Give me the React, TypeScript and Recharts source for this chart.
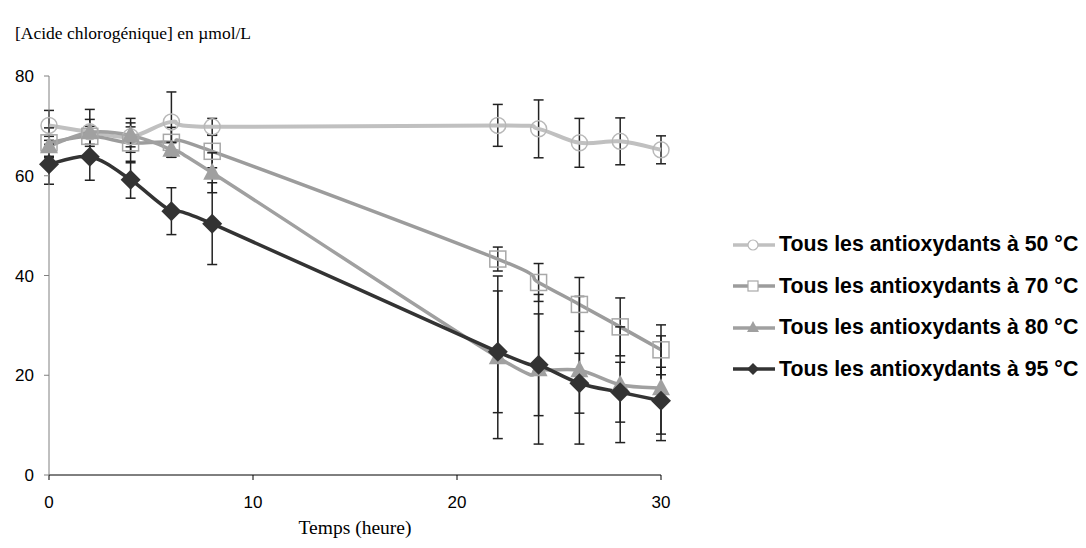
import { LineChart, Line, XAxis, YAxis, ErrorBar } from 'recharts';

const times = [0, 2, 4, 6, 8, 22, 24, 26, 28, 30];

const c50 = [70.1, 68.8, 67.8, 70.8, 69.8, 70.1, 69.4, 66.6, 66.9, 65.2];
const e50 = [3, 2.5, 2, 6, 1.7, 4.2, 5.8, 4.9, 4.7, 2.8];
const c70 = [66.6, 67.9, 66.6, 66.7, 64.9, 43.3, 38.6, 34.2, 29.7, 25.1];
const e70 = [3, 2, 4, 3, 3.3, 2.4, 3.8, 5.4, 5.8, 5];
const c80 = [65.9, 68.7, 68.1, 65.2, 60.6, 23.6, 21.2, 21.0, 18.1, 17.4];
const e80 = [2, 4.6, 3.4, 1.5, 4, 16.3, 15, 14.8, 11.6, 10.5];
const c95 = [62.3, 63.8, 59.2, 52.9, 50.4, 24.7, 22.1, 18.4, 16.6, 14.9];
const e95 = [4, 4.7, 3.7, 4.7, 8.2, 12.2, 10.2, 6, 6, 6.7];

const xTicks = [0, 10, 20, 30];
const yTicks = [0, 20, 40, 60, 80];

const seriesNames = [
  'Tous les antioxydants à 50 °C',
  'Tous les antioxydants à 70 °C',
  'Tous les antioxydants à 80 °C',
  'Tous les antioxydants à 95 °C',
];

const data = times.map((t, i) => ({
  t,
  c50: c50[i],
  e50: e50[i],
  c70: c70[i],
  e70: e70[i],
  c80: c80[i],
  e80: e80[i],
  c95: c95[i],
  e95: e95[i],
}));

const COLORS = ['#c0c0c0', '#9c9c9c', '#a0a0a0', '#333333'];

// Excel-like smoothed line (Catmull-Rom as cubic bezier)
function excelSmooth(context: any) {
  let pts: [number, number][] = [];
  return {
    areaStart() {},
    areaEnd() {},
    lineStart() {
      pts = [];
    },
    point(x: number, y: number) {
      pts.push([+x, +y]);
    },
    lineEnd() {
      const n = pts.length;
      if (!n) return;
      context.moveTo(pts[0][0], pts[0][1]);
      for (let i = 0; i < n - 1; i++) {
        const p0 = pts[Math.max(i - 1, 0)];
        const p1 = pts[i];
        const p2 = pts[i + 1];
        const p3 = pts[Math.min(i + 2, n - 1)];
        context.bezierCurveTo(
          p1[0] + (p2[0] - p0[0]) / 6,
          p1[1] + (p2[1] - p0[1]) / 6,
          p2[0] - (p3[0] - p1[0]) / 6,
          p2[1] - (p3[1] - p1[1]) / 6,
          p2[0],
          p2[1],
        );
      }
    },
  };
}

function Marker({ kind, cx, cy }: { kind: number; cx: number; cy: number }) {
  if (kind === 0) {
    return <circle cx={cx} cy={cy} r={8} fill="none" stroke="#b8b8b8" strokeWidth={1.5} />;
  }
  if (kind === 1) {
    return <rect x={cx - 8} y={cy - 8} width={16} height={16} fill="none" stroke="#a8a8a8" strokeWidth={1.5} />;
  }
  if (kind === 2) {
    return <polygon points={`${cx},${cy - 10} ${cx + 9},${cy + 7} ${cx - 9},${cy + 7}`} fill="#a0a0a0" />;
  }
  return <polygon points={`${cx},${cy - 10} ${cx + 10},${cy} ${cx},${cy + 10} ${cx - 10},${cy}`} fill="#333333" />;
}

function makeDot(kind: number) {
  return (props: any) => {
    const { cx, cy, index } = props;
    if (cx == null || cy == null) return <g key={index} />;
    return <Marker key={index} kind={kind} cx={cx} cy={cy} />;
  };
}

function LegendIcon({ kind }: { kind: number }) {
  const cx = 21;
  const cy = 8;
  let m;
  if (kind === 0) m = <circle cx={cx} cy={cy} r={5} fill="#fff" stroke="#b8b8b8" strokeWidth={1.2} />;
  else if (kind === 1) m = <rect x={cx - 5} y={cy - 5} width={10} height={10} fill="#fff" stroke="#a8a8a8" strokeWidth={1.2} />;
  else if (kind === 2) m = <polygon points={`${cx},${cy - 7} ${cx + 6},${cy + 4} ${cx - 6},${cy + 4}`} fill="#a0a0a0" />;
  else m = <polygon points={`${cx},${cy - 6} ${cx + 6},${cy} ${cx},${cy + 6} ${cx - 6},${cy}`} fill="#333333" />;
  return (
    <svg width={44} height={16} style={{ display: 'block', flex: 'none' }}>
      <line x1={1} y1={cy} x2={43} y2={cy} stroke={COLORS[kind]} strokeWidth={3.5} />
      {m}
    </svg>
  );
}

const tickFont = { fontFamily: '"Liberation Sans", Arial, sans-serif', fontSize: 17, fill: '#000' };

export default function App() {
  return (
    <div style={{ position: 'relative', width: 1078, height: 540 }}>
      <LineChart width={1078} height={540} data={data} margin={{ top: 68, right: 425, bottom: 0, left: 0 }}>
        <XAxis
          dataKey="t"
          type="number"
          domain={[0, 30]}
          ticks={xTicks}
          stroke="#000"
          tickLine={{ stroke: '#000' }}
          tickSize={5}
          tickMargin={16}
          tick={tickFont}
          height={73}
          label={{
            value: 'Temps (heure)',
            position: 'insideBottom',
            offset: 14,
            style: { fontFamily: '"Liberation Serif", "Times New Roman", serif', fontSize: 19.5, fill: '#000' },
          }}
        />
        <YAxis
          type="number"
          domain={[0, 80]}
          ticks={yTicks}
          stroke="#808080"
          tickSize={5}
          tickMargin={10}
          tick={tickFont}
          width={41}
          label={{
            content: () => (
              <text
                x={7}
                y={31}
                style={{ fontFamily: '"Liberation Serif", "Times New Roman", serif', fontSize: 17.5, fill: '#000' }}
              >
                [Acide chlorogénique] en µmol/L
              </text>
            ),
          }}
        />
        <Line type={excelSmooth as any} dataKey="c50" stroke={COLORS[0]} strokeWidth={4} dot={makeDot(0)} isAnimationActive={false}>
          <ErrorBar dataKey="e50" width={5} stroke="#222" strokeWidth={1.5} direction="y" />
        </Line>
        <Line type={excelSmooth as any} dataKey="c70" stroke={COLORS[1]} strokeWidth={3.5} dot={makeDot(1)} isAnimationActive={false}>
          <ErrorBar dataKey="e70" width={5} stroke="#222" strokeWidth={1.5} direction="y" />
        </Line>
        <Line type={excelSmooth as any} dataKey="c80" stroke={COLORS[2]} strokeWidth={3.5} dot={makeDot(2)} isAnimationActive={false}>
          <ErrorBar dataKey="e80" width={5} stroke="#222" strokeWidth={1.5} direction="y" />
        </Line>
        <Line type={excelSmooth as any} dataKey="c95" stroke={COLORS[3]} strokeWidth={3.5} dot={makeDot(3)} isAnimationActive={false}>
          <ErrorBar dataKey="e95" width={5} stroke="#222" strokeWidth={1.5} direction="y" />
        </Line>
      </LineChart>
      <div style={{ position: 'absolute', left: 724, top: 216 }}>
        {seriesNames.map((name, i) => (
          <div key={name} style={{ display: 'flex', alignItems: 'center', height: 41.5 }}>
            <LegendIcon kind={i} />
            <span
              style={{
                marginLeft: 3,
                fontFamily: '"Liberation Sans", Arial, sans-serif',
                fontWeight: 'bold',
                fontSize: 21.3,
                color: '#000',
                whiteSpace: 'nowrap',
              }}
            >
              {name}
            </span>
          </div>
        ))}
      </div>
    </div>
  );
}
